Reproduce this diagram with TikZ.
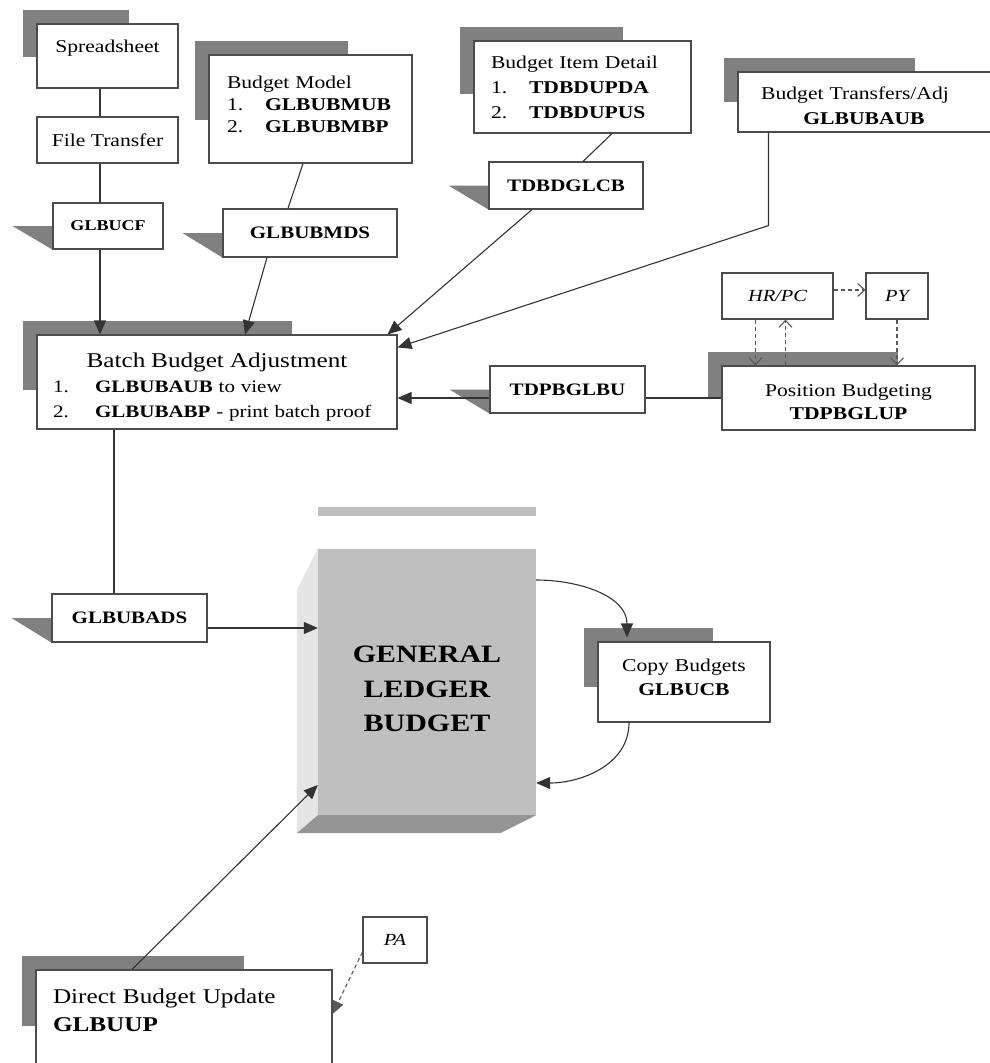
\documentclass[tikz,border=0pt]{standalone}
\usepackage{fontspec}
\setmainfont{Liberation Serif}[FakeStretch=1.2]
\usepackage{tikz}
\usetikzlibrary{positioning, arrows.meta, calc, backgrounds}

\begin{document}
\begin{tikzpicture}[x=1pt, y=-1pt,
  box/.style={draw=black!70, line width=1.1pt, fill=white, inner sep=0pt, font=\fontsize{18}{24}\selectfont},
  code/.style={box, font=\fontsize{17.5}{20}\selectfont\bfseries},
  tab/.style={fill=black!50},
  link/.style={draw=black!80, line width=1.1pt},
  feed/.style={link, -{Triangle[length=14pt, width=12pt]}},
  hint/.style={draw=black!65, line width=1.1pt, dash pattern=on 4pt off 3pt, -{Straight Barb[length=7pt, width=13pt]}}]
  \path[use as bounding box] (0,0) rectangle (989,1063);

  % sources along the top
  \node[box, minimum width=141pt, minimum height=64pt, text depth=20pt] (ss) at (107.5,56) {Spreadsheet};
  \node[box, minimum width=141pt, minimum height=46pt] (ft) at (107.5,140) {File Transfer};
  \node[code, minimum width=110pt, minimum height=46pt, font=\fontsize{15}{18}\selectfont\bfseries] (gcf) at (108,226) {GLBUCF};
  \node[box, minimum width=203pt, minimum height=108pt, text width=167pt, text depth=53pt, align=left, font=\fontsize{18}{22}\selectfont] (bm) at (310.5,109)
    {Budget Model\\\makebox[38pt][l]{1.}\textbf{GLBUBMUB}\\\makebox[38pt][l]{2.}\textbf{GLBUBMBP}};
  \node[code, minimum width=174pt, minimum height=48pt] (gmds) at (310,233) {GLBUBMDS};
  \node[box, minimum width=217pt, minimum height=92pt, text width=183pt, align=left, font=\fontsize{18}{25}\selectfont] (bid) at (582.5,87)
    {Budget Item Detail\\\makebox[38pt][l]{1.}\textbf{TDBDUPDA}\\\makebox[38pt][l]{2.}\textbf{TDBDUPUS}};
  \node[code, minimum width=154pt, minimum height=47pt] (tdgl) at (566,185.5) {TDBDGLCB};
  \node[box, minimum width=255pt, minimum height=60pt, text width=221pt, text depth=17pt, align=left, font=\fontsize{18}{25}\selectfont] (bt) at (865.5,102)
    {\makebox[200pt]{Budget Transfers/Adj}\\\makebox[218pt]{\bfseries GLBUBAUB}};

  % position budgeting
  \node[box, minimum width=111pt, minimum height=46pt, font=\fontsize{17}{20}\selectfont\itshape] (hr) at (777.5,296) {HR/PC};
  \node[box, minimum width=62pt, minimum height=46pt, font=\fontsize{17}{20}\selectfont\itshape] (py) at (897,296) {PY};
  \node[box, minimum width=253pt, minimum height=64pt, text width=253pt, text depth=15pt, align=center, font=\fontsize{18}{23}\selectfont] (pos) at (848.5,398)
    {Position Budgeting\\\textbf{TDPBGLUP}};
  \node[code, minimum width=155pt, minimum height=47pt] (tdpb) at (567.5,389.5) {TDPBGLBU};

  % batch and ledger
  \node[box, minimum width=360pt, minimum height=94pt, text width=328pt, text depth=43pt, align=left, font=\fontsize{17.5}{25}\selectfont] (batch) at (217,382)
    {\makebox[328pt]{\fontsize{21}{25}\selectfont Batch Budget Adjustment}\\
     \makebox[42pt][l]{1.}\textbf{GLBUBAUB} to view\\
     \makebox[42pt][l]{2.}\textbf{GLBUBABP} - print batch proof};
  \node[code, minimum width=155pt, minimum height=48pt] (gads) at (129.5,618) {GLBUBADS};
  \node[fill=black!25, minimum width=218pt, minimum height=266pt, inner sep=0pt, text width=218pt, text depth=55pt, align=center, font=\fontsize{25}{34.5}\selectfont\bfseries] (gl) at (427,682)
    {GENERAL\\LEDGER\\BUDGET};
  \fill[black!25] ([yshift=33pt]gl.north west) rectangle ([yshift=42pt]gl.north east);
  \fill[black!10] (gl.north west) -- ([xshift=-21pt, yshift=-41pt]gl.north west) -- ([xshift=-21pt, yshift=-18pt]gl.south west) -- (gl.south west) -- cycle;
  \fill[black!42] (gl.south west) -- ([xshift=-21pt, yshift=-18pt]gl.south west) -- ([xshift=-36pt, yshift=-18pt]gl.south east) -- (gl.south east) -- cycle;
  \node[box, minimum width=172pt, minimum height=80pt, text width=172pt, text depth=33pt, align=center] (copy) at (684,682) {Copy Budgets\\\textbf{GLBUCB}};
  \node[box, minimum width=296pt, minimum height=96pt, text width=262pt, text depth=44pt, align=left, font=\fontsize{21}{28}\selectfont] (dbu) at (184,1018)
    {Direct Budget Update\\\textbf{GLBUUP}};
  \node[box, minimum width=64pt, minimum height=46pt, font=\fontsize{17}{20}\selectfont\itshape] (pa) at (395,940) {PA};

  % shadows
  \begin{pgfonlayer}{background}
    \fill[white] (0,0) rectangle (989,1063);
    \foreach \b in {ss,bm,bid,bt,batch,pos,copy,dbu}
      \fill[tab] let \p1=(\b.north west), \p2=(\b.south east) in
        (\x1-13pt,\y1+13pt) rectangle ({\x1-13pt+0.745*(\x2-\x1)},{\y1+13pt+0.72*(\y2-\y1)});
    \foreach \b in {gcf,gmds,tdgl,tdpb,gads}
      \fill[tab] ([xshift=-40pt]\b.west) -- (\b.west) -- (\b.south west) -- cycle;
  \end{pgfonlayer}

  % connectors
  \draw[link] ([xshift=-7.5pt]ss.south) -- ([xshift=-7.5pt]ft.north);
  \draw[link] ([xshift=-7.5pt]ft.south) -- ([xshift=-8pt]gcf.north);
  \draw[feed] ([xshift=-8pt]gcf.south) -- ([xshift=-8pt]gcf.south |- batch.north);
  \draw[link] ([xshift=-7.5pt]bm.south) -- ([xshift=-22pt]gmds.north);
  \draw[feed] ([xshift=-43pt]gmds.south) -- ([xshift=28pt]batch.north);
  \draw[link] ([xshift=29.5pt]bid.south) -- ([xshift=17pt]tdgl.north);
  \draw[feed] ([xshift=-34pt]tdgl.south) -- ([xshift=-10pt]batch.north east);
  \coordinate (btturn) at ([xshift=31pt, yshift=-93pt]bt.south west);
  \draw[feed] ([xshift=31pt]bt.south west) -- (btturn) -- ([yshift=-13pt]batch.north east);
  \draw[link] (pos.west) -- (pos.west -| tdpb.east);
  \draw[feed] (pos.west -| tdpb.west) -- (pos.west -| batch.east);
  \draw[hint] ([yshift=6pt]hr.east) -- ([yshift=6pt]py.west);
  \draw[hint] ([xshift=-22pt]hr.south) -- ([xshift=-22pt]hr.south |- pos.north);
  \draw[hint] ([xshift=8pt]hr.south |- pos.north) -- ([xshift=8pt]hr.south);
  \draw[hint] (py.south) -- (py.south |- pos.north);
  \draw[link] ([xshift=-103pt]batch.south) -- ([xshift=-103pt]batch.south |- gads.north);
  \draw[feed] ([yshift=-10pt]gads.east) -- ([yshift=-10pt]gads.east -| gl.west);
  \draw[feed] ([yshift=102pt]gl.east) to[out=0, in=90] ([xshift=-57pt, yshift=4pt]copy.north);
  \draw[feed] ([xshift=-55pt]copy.south) to[out=-90, in=0] ([yshift=-101pt]gl.east);
  \draw[feed] ([xshift=-52pt]dbu.north) -- ([yshift=-103pt]gl.west);
  \draw[hint, -{Triangle[length=13pt, width=11pt]}] ([yshift=-12pt]pa.west) -- ([yshift=4pt]dbu.east);
\end{tikzpicture}
\end{document}
